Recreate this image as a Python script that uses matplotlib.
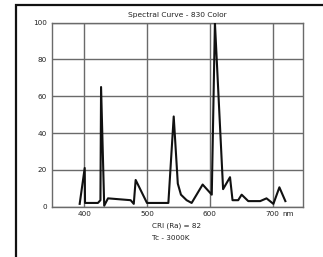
import matplotlib.pyplot as plt
import matplotlib.patches as patches

# spectral curve
wavelength = [393, 401, 401.5, 422, 426, 427, 432, 438, 474, 479, 482, 500, 534,
              542.5, 549, 554, 563, 571, 588.5, 603, 608, 621, 632, 636, 645,
              650.5, 661, 680, 690, 701, 710.5, 720]
intensity = [1.5, 21, 2, 2, 3.5, 65, 0.5, 4.5, 3.5, 1.5, 14.5, 2, 2,
             49, 12.5, 6.5, 3.5, 2, 12, 6.5, 100, 9.5, 16, 3.5, 3.5,
             6.5, 3, 3, 4.5, 1.5, 10.5, 3]
x_ticks = [400, 500, 600, 700]
y_ticks = [0, 20, 40, 60, 80, 100]

plt.rcParams['font.family'] = 'DejaVu Sans'

fig = plt.figure(figsize=(3.23, 2.57), dpi=100)
ax = fig.add_axes([0.161, 0.196, 0.777, 0.716])

ax.plot(wavelength, intensity, color='#111111', lw=1.5, zorder=3)

ax.set_xlim(349, 748)
ax.set_ylim(0, 100)
ax.set_xticks(x_ticks)
ax.set_yticks(y_ticks)
ax.tick_params(length=0, labelsize=5.2, labelcolor='#222222', pad=3.5)
ax.grid(True, color='#6a6a6a', lw=1.0)
for s in ax.spines.values():
    s.set_color('#6a6a6a')
    s.set_linewidth(1.0)

ax.annotate('nm', xy=(724, 0), xycoords=('data', 'axes fraction'),
            xytext=(0, -3.5), textcoords='offset points',
            ha='center', va='top', fontsize=5.2, color='#222222')

fig.text(0.548, 0.942, 'Spectral Curve - 830 Color', ha='center', va='center',
         fontsize=5.4, color='#222222')
fig.text(0.47, 0.121, 'CRI (Ra) = 82', ha='left', va='center',
         fontsize=5.2, color='#222222')
fig.text(0.47, 0.074, 'Tc - 3000K', ha='left', va='center',
         fontsize=5.2, color='#222222')

# outer frame, runs off the right and bottom edges
frame = patches.Rectangle((16 / 323, -0.1), 1.2, 1 - 5 / 257 + 0.1,
                          transform=fig.transFigure, fill=False,
                          edgecolor='#111111', lw=1.6)
fig.patches.append(frame)

fig.savefig('out.png', dpi=100)
